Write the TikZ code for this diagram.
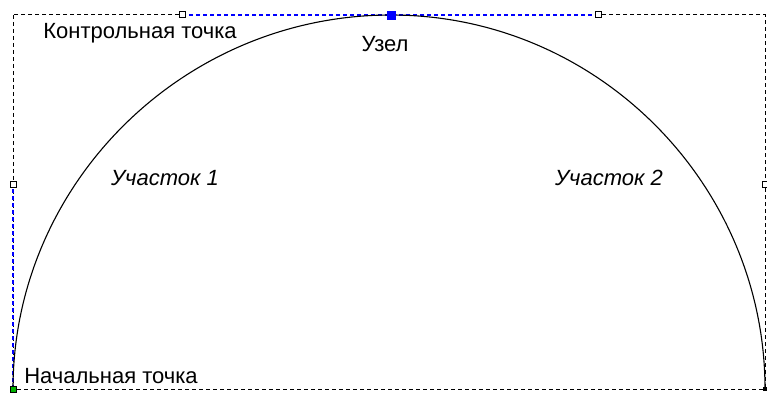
\documentclass[tikz,border=0pt]{standalone}
\usepackage{fontspec}
\setmainfont{Liberation Sans}
\usepackage{tikz}
\usetikzlibrary{positioning,calc}
\definecolor{handleblue}{HTML}{0000FF}
\tikzset{
  frame/.style={draw,dash pattern=on 4pt off 3pt,line width=1pt},
  handle/.style={draw=handleblue,dash pattern=on 4pt off 3pt,line width=1.6pt},
  curve/.style={draw,line width=1.1pt},
  ctrlpt/.style={draw,fill=white,rectangle,inner sep=0pt,minimum size=6pt,line width=1pt},
  knotpt/.style={draw=handleblue,fill=handleblue,rectangle,inner sep=0pt,minimum size=8pt},
  startpt/.style={draw,fill=green!70!black,rectangle,inner sep=0pt,minimum size=6pt,line width=0.8pt},
  endpt/.style={fill,rectangle,inner sep=0pt,minimum size=4pt},
  lbl/.style={font=\fontsize{22}{25}\selectfont,inner sep=0pt},
  seg/.style={lbl,font=\fontsize{22}{25}\selectfont\itshape},
}
\begin{document}
\begin{tikzpicture}[x=1pt,y=-1pt]
\useasboundingbox (0,0) rectangle (767,395);
% points of the curve
\coordinate (s) at (13,389);
\coordinate (h1) at (13,185);
\coordinate (c1) at (182,15);
\coordinate (k) at (391,15);
\coordinate (c2) at (598,15);
\coordinate (h2) at (765,185);
\coordinate (e) at (765,389);
% bounding frame
\draw[frame] (13,15) rectangle (765,389);
% handles
\draw[handle] (s) -- (h1);
\draw[handle] (c1) -- (k) -- (c2);
\draw[curve] (s) .. controls (h1) and (c1) .. (k)
  .. controls (c2) and (h2) .. (e);
% markers
\node[ctrlpt] (m1) at (h1) {};
\node[ctrlpt] (m2) at (c1) {};
\node[ctrlpt] (m3) at (c2) {};
\node[ctrlpt] (m4) at (h2) {};
\node[knotpt] (mk) at (k) {};
\node[startpt] (ms) at (s) {};
\node[endpt] (me) at (e) {};
% labels
\node[lbl] (ctrl) at (140,33) {Контрольная точка};
\node[lbl] (knot) at (385,44) {Узел};
\node[seg] (seg1) at (165,178) {Участок 1};
\node[seg] (seg2) at (609,178) {Участок 2};
\node[lbl] (start) at (111,376) {Начальная точка};
\end{tikzpicture}
\end{document}
